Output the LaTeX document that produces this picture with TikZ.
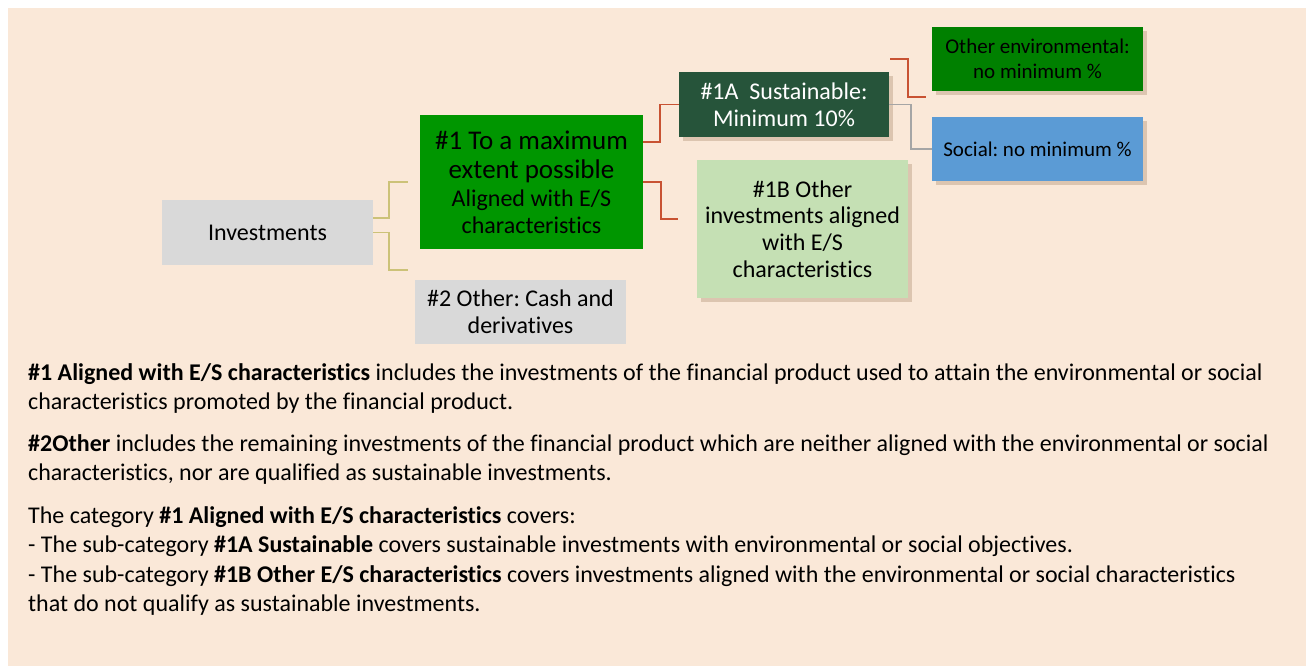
\documentclass[tikz,border=0pt]{standalone}
\usepackage{fontspec}
\setmainfont{Carlito}[Ligatures=NoCommon]
\usetikzlibrary{calc,shadows}

\definecolor{peach}{RGB}{250,232,216}
\definecolor{boxgray}{RGB}{217,217,217}
\definecolor{brightgreen}{RGB}{0,150,0}
\definecolor{envgreen}{RGB}{0,128,0}
\definecolor{darkgreen}{RGB}{38,84,58}
\definecolor{socialblue}{RGB}{91,155,213}
\definecolor{palegreen}{RGB}{197,224,180}
\definecolor{olivelink}{RGB}{204,194,120}
\definecolor{redlink}{RGB}{200,82,50}
\definecolor{graylink}{RGB}{165,165,165}

\newcommand{\bigline}{\fontsize{27}{30}\selectfont}

\tikzset{
    catbox/.style={minimum width=211pt, minimum height=65pt, align=center,
        inner sep=2pt, font=\fontsize{24}{26.7}\selectfont},
    smallbox/.style={catbox, minimum height=64pt, font=\fontsize{21}{25}\selectfont},
    shadowed/.style={drop shadow={shadow xshift=4pt, shadow yshift=-4pt,
        fill=brown!60!black, opacity=0.22}},
    link/.style={line width=1.5pt},
    note/.style={align=left, inner sep=0pt, font=\fontsize{24}{29.5}\selectfont}
}

\begin{document}
\frenchspacing
\begin{tikzpicture}[x=1pt, y=-1pt]
    \useasboundingbox (0,0) rectangle (1306,666);
    \fill[white] (0,0) rectangle (1306,666);
    \fill[peach] (8,8) rectangle (1306,666);

    % category boxes
    \node[catbox, fill=boxgray] (inv) at (267.5,232.5) {Investments};
    \node[catbox, fill=brightgreen, minimum width=223pt, minimum height=134pt] (one) at (531.5,182)
        {\bigline\#1 To a maximum\\[3pt]\bigline extent possible\\[1pt]Aligned with E/S\\characteristics};
    \node[catbox, fill=darkgreen, text=white, shadowed, minimum width=210pt] (oneA) at (784,104.5)
        {\#1A~ Sustainable:\\Minimum 10\%};
    \node[catbox, fill=palegreen, shadowed, minimum height=138pt] (oneB) at (802.5,229)
        {\#1B Other\\investments aligned\\with E/S\\characteristics};
    \node[catbox, fill=boxgray, minimum height=64pt] (two) at (520.5,312)
        {\#2 Other: Cash and\\derivatives};
    \node[smallbox, fill=envgreen, shadowed] (env) at (1037.5,59)
        {Other environmental:\\no minimum \%};
    \node[smallbox, fill=socialblue, shadowed] (social) at (1037.5,149)
        {Social: no minimum \%};

    % elbow connectors
    \coordinate (invUp) at (408,182);
    \coordinate (invDown) at (408,270);
    \coordinate (oneBend) at (678,219);
    \coordinate (envStart) at (890,59);
    \coordinate (envEnd) at (926,97);
    \draw[link, olivelink] ($(inv.east)+(0,-14.5)$) -- ++(16,0) |- (invUp);
    \draw[link, olivelink] (inv.east) -- ++(16,0) |- (invDown);
    \draw[link, redlink] ($(one.east)+(0,-40)$) -- ++(17,0) |- (oneA.west);
    \draw[link, redlink] (one.east) -- ++(18,0) |- (oneBend);
    \draw[link, redlink] (envStart) -- ++(18,0) |- (envEnd);
    \draw[link, graylink] (oneA.east) -- ++(22,0) |- (social.west);

    % explanatory notes (anchored on their last baseline)
    \node[note, anchor=base west] (noteOne) at (28,409.5)
        {\textbf{\#1 Aligned with E/S characteristics} includes the investments of the financial product used to attain the environmental or social\\
         characteristics promoted by the financial product.};
    \node[note, anchor=base west] (noteTwo) at (28,480.5)
        {\textbf{\#2Other} includes the remaining investments of the financial product which are neither aligned with the environmental or social\\
         characteristics, nor are qualified as sustainable investments.};
    \node[note, anchor=base west] (noteThree) at (28,611.5)
        {The category \textbf{\#1 Aligned with E/S characteristics} covers:\\
         - The sub-category \textbf{\#1A Sustainable} covers sustainable investments with environmental or social objectives.\\
         - The sub-category \textbf{\#1B Other E/S characteristics} covers investments aligned with the environmental or social characteristics\\
         that do not qualify as sustainable investments.};
\end{tikzpicture}
\end{document}
